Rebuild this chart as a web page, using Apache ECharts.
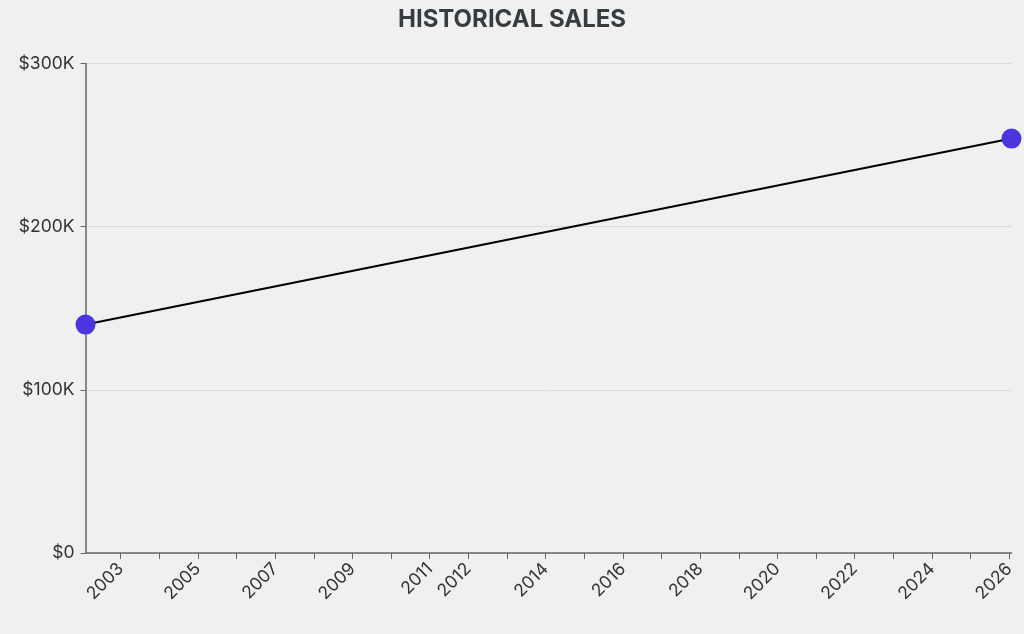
<!DOCTYPE html>
<html>
<head>
<meta charset="utf-8">
<script src="https://cdn.jsdelivr.net/npm/echarts@6/dist/echarts.min.js"></script>
<style>
html,body{margin:0;padding:0;background:#f0f0f0;}
#chart{width:1024px;height:634px;}
</style>
</head>
<body>
<div id="chart"></div>
<script>
// Data (x in decimal years)
const years = [2002.09, 2026.06];
const sales = [140000, 254000];
const xTickYears = [2003,2004,2005,2006,2007,2008,2009,2010,2011,2012,2013,2014,2015,2016,2017,2018,2019,2020,2021,2022,2023,2024,2025,2026];
const xLabelYears = [2003,2005,2007,2009,2011,2012,2014,2016,2018,2020,2022,2024,2026];
const yTicks = [0, 100000, 200000, 300000];

const chart = echarts.init(document.getElementById('chart'));
const font = 'Inter, "Noto Sans", sans-serif';
chart.setOption({
  backgroundColor: '#f0f0f0',
  animation: false,
  title: {
    text: 'HISTORICAL SALES',
    left: 'center',
    top: 3,
    textStyle: {fontFamily: font, fontSize: 24, fontWeight: 'bold', color: '#363c3f'}
  },
  grid: {left: 85.5, right: 12.5, top: 63.5, bottom: 81, containLabel: false},
  xAxis: {
    type: 'value',
    min: years[0],
    max: years[1],
    axisLine: {show: true, lineStyle: {color: '#666', width: 1.5}},
    axisTick: {show: true, length: 6, customValues: xTickYears, lineStyle: {color: '#666'}},
    axisLabel: {
      customValues: xLabelYears,
      rotate: 45,
      margin: 13,
      fontFamily: font,
      fontSize: 17.5,
      color: '#333',
      formatter: v => String(Math.round(v))
    },
    splitLine: {show: false}
  },
  yAxis: {
    type: 'value',
    min: 0,
    max: 300000,
    interval: 100000,
    axisLine: {show: true, lineStyle: {color: '#666', width: 1.5}},
    axisTick: {show: true, length: 5, lineStyle: {color: '#666'}},
    axisLabel: {
      margin: 11,
      fontFamily: font,
      fontSize: 17.5,
      color: '#333',
      formatter: v => v === 0 ? '$0' : '$' + (v / 1000) + 'K'
    },
    splitLine: {show: true, lineStyle: {color: '#dcdcdc', width: 1}}
  },
  series: [{
    type: 'line',
    data: years.map((y, i) => [y, sales[i]]),
    symbol: 'circle',
    symbolSize: 20,
    clip: false,
    lineStyle: {color: '#000', width: 2},
    itemStyle: {color: '#4a36dc'}
  }]
});
</script>
</body>
</html>
